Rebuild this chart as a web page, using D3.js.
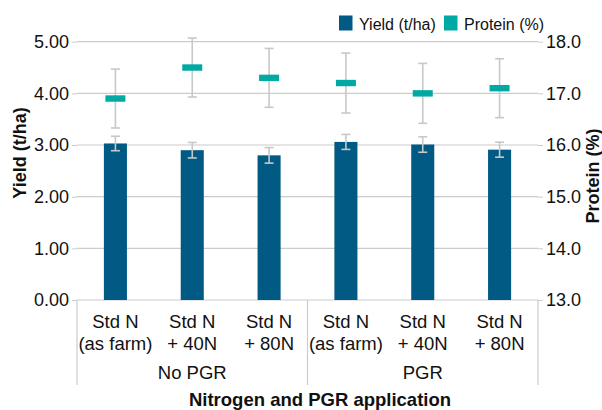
<!DOCTYPE html>
<html><head><meta charset="utf-8">
<script src="https://cdn.jsdelivr.net/npm/d3@7"></script>
<style>
html,body{margin:0;padding:0;background:#fff;}
svg{display:block;font-family:"Liberation Sans",Arial,sans-serif;}
</style></head>
<body>
<svg id="chart" width="602" height="410"></svg>
<script>
const catLine1 = ["Std N","Std N","Std N","Std N","Std N","Std N"];
const catLine2 = ["(as farm)","+ 40N","+ 80N","(as farm)","+ 40N","+ 80N"];
const groups = ["No PGR","PGR"];
const yieldVals = [3.03, 2.90, 2.80, 3.06, 3.01, 2.91];
const yieldErr = [0.14, 0.15, 0.15, 0.145, 0.15, 0.145];
const proteinVals = [16.9, 17.5, 17.3, 17.2, 17.0, 17.1];
const proteinErr = [0.57, 0.57, 0.57, 0.58, 0.58, 0.57];
const yieldTicks = [0,1,2,3,4,5];
const proteinTicks = [13,14,15,16,17,18];

const BAR = "#005a84", TEAL = "#00a9a4", GRID = "#cccccc", ERR = "#c8c8c8";
const svg = d3.select("#chart");
const L = 77, R = 538, T = 41.7, B = 300;
const idx = d3.range(catLine1.length);
const x = d3.scaleBand().domain(idx).range([L, R]).paddingInner(0.7).paddingOuter(0.35);
const y = d3.scaleLinear().domain([0,5]).range([B, T]);
const y2 = d3.scaleLinear().domain([13,18]).range([B, T]);

// grid + left axis
const gl = svg.append("g").attr("transform",`translate(${L},0)`)
  .call(d3.axisLeft(y).tickValues(yieldTicks).tickFormat(d3.format(".2f")).tickSize(5).tickPadding(3));
gl.select(".domain").remove();
gl.selectAll("line").attr("stroke",GRID);
gl.selectAll("text").attr("font-size",18).attr("fill","#111");
svg.append("g").selectAll("line").data(yieldTicks).join("line")
  .attr("x1",L).attr("x2",R).attr("y1",d=>y(d)).attr("y2",d=>y(d))
  .attr("stroke",GRID).attr("stroke-width",1.2);

const gr = svg.append("g").attr("transform",`translate(${R},0)`)
  .call(d3.axisRight(y2).tickValues(proteinTicks).tickFormat(d3.format(".1f")).tickSize(5).tickPadding(3));
gr.select(".domain").remove();
gr.selectAll("line").attr("stroke",GRID);
gr.selectAll("text").attr("font-size",18).attr("fill","#111");

// bars
svg.append("g").selectAll("rect").data(idx).join("rect")
  .attr("x",i=>x(i)).attr("width",x.bandwidth())
  .attr("y",i=>y(yieldVals[i])).attr("height",i=>B-y(yieldVals[i]))
  .attr("fill",BAR);

function errBars(vals, errs, sc){
  const g = svg.append("g").attr("stroke",ERR).attr("stroke-width",1.6);
  idx.forEach(i=>{
    const cx = x(i)+x.bandwidth()/2;
    const t = sc(vals[i]+errs[i]), b = sc(vals[i]-errs[i]);
    g.append("line").attr("x1",cx).attr("x2",cx).attr("y1",t).attr("y2",b);
    g.append("line").attr("x1",cx-4.5).attr("x2",cx+4.5).attr("y1",t).attr("y2",t);
    g.append("line").attr("x1",cx-4.5).attr("x2",cx+4.5).attr("y1",b).attr("y2",b);
  });
}
errBars(yieldVals, yieldErr, y);
errBars(proteinVals, proteinErr, y2);

// protein markers
svg.append("g").selectAll("rect").data(idx).join("rect")
  .attr("x",i=>x(i)+x.bandwidth()/2-10).attr("width",20)
  .attr("y",i=>y2(proteinVals[i])-3.2).attr("height",6.4)
  .attr("fill",TEAL);

// category axis
const step = x.step();
const cx = i => x(i)+x.bandwidth()/2;
const cat = svg.append("g").attr("font-size",18.5).attr("fill","#111").attr("text-anchor","middle");
cat.selectAll("text.l1").data(idx).join("text").attr("class","l1")
  .attr("x",cx).attr("y",327.5).text(i=>catLine1[i]);
cat.selectAll("text.l2").data(idx).join("text").attr("class","l2")
  .attr("x",cx).attr("y",349.5).text(i=>catLine2[i]);
const per = catLine1.length/groups.length;
cat.selectAll("text.g").data(groups).join("text").attr("class","g")
  .attr("x",(d,j)=>(cx(j*per)+cx(j*per+per-1))/2).attr("y",379).text(d=>d);
svg.append("g").selectAll("line").data(d3.range(groups.length+1)).join("line")
  .attr("x1",j=>L+j*per*step).attr("x2",j=>L+j*per*step)
  .attr("y1",B).attr("y2",385).attr("stroke",GRID).attr("stroke-width",1.2);

// titles
svg.append("text").attr("x",320).attr("y",406).attr("text-anchor","middle")
  .attr("font-size",18.5).attr("font-weight","bold").attr("fill","#111").text("Nitrogen and PGR application");
svg.append("text").attr("transform","translate(26,153) rotate(-90)").attr("text-anchor","middle")
  .attr("font-size",18).attr("font-weight","bold").attr("fill","#111").text("Yield (t/ha)");
svg.append("text").attr("transform","translate(599,176) rotate(-90)").attr("text-anchor","middle")
  .attr("font-size",18).attr("font-weight","bold").attr("fill","#111").text("Protein (%)");

// legend
const legend = [{name:"Yield (t/ha)",c:BAR,x:339},{name:"Protein (%)",c:TEAL,x:444}];
const lg = svg.append("g");
lg.selectAll("rect").data(legend).join("rect").attr("x",d=>d.x).attr("y",15.5).attr("width",13.5).attr("height",15).attr("fill",d=>d.c);
lg.selectAll("text").data(legend).join("text").attr("x",d=>d.x+20).attr("y",30).attr("font-size",16).attr("fill","#111").text(d=>d.name);
</script>
</body></html>
